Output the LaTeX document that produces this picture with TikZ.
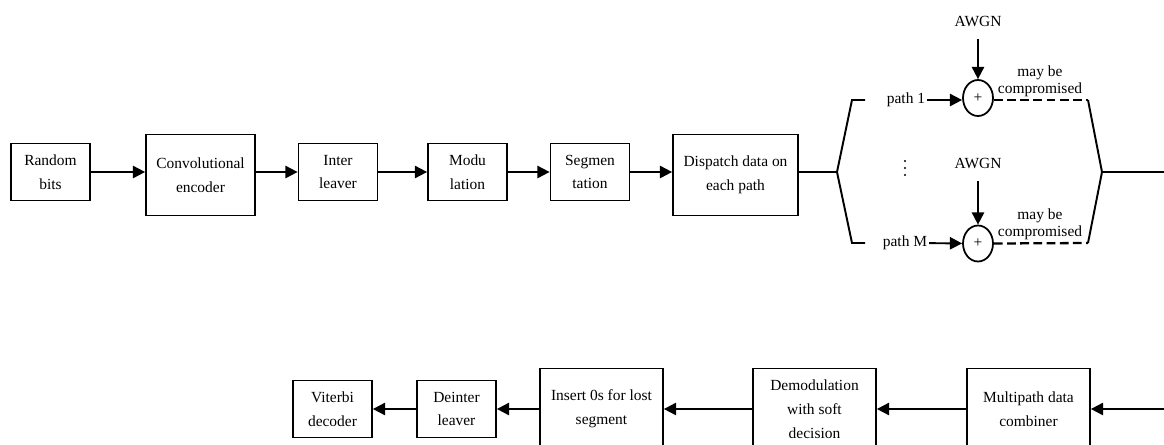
\documentclass[tikz,border=0pt]{standalone}
\usepackage{fontspec}
\setmainfont{Liberation Serif}
\usepackage{tikz}
\usetikzlibrary{arrows.meta}
\usetikzlibrary{shapes.geometric}
\tikzstyle{BlockNode}=[rectangle,draw,line width=1pt,align=center,inner sep=1pt,
font=\fontsize{8.8}{13.5}\selectfont]
\tikzstyle{SmallBlock}=[BlockNode,minimum width=1.58cm,minimum height=1.14cm]
\tikzstyle{BigBlock}=[BlockNode,minimum width=2.46cm,minimum height=1.62cm]
\tikzstyle{AdderNode}=[ellipse,draw,line width=1pt,minimum width=0.6cm,minimum height=0.72cm,
inner sep=0pt,font=\fontsize{8.8}{10}\selectfont]
\tikzstyle{LabelNode}=[inner sep=1pt,font=\fontsize{8.8}{10}\selectfont]
\tikzstyle{EdgeArrow}=[line width=1.1pt,-{Triangle[length=7pt,width=7pt]}]
\tikzstyle{EdgeLine}=[line width=1.1pt]
\tikzstyle{EdgeDashed}=[line width=1.3pt,dash pattern=on 5pt off 2.5pt]

\begin{document}
\begin{tikzpicture}[x=0.02cm,y=-0.02cm]
        \clip(0,0)rectangle(1164,444);
        % transmitter chain
        \node[SmallBlock](rb)at(50.5,172){Random\\bits};
        \node[BigBlock,minimum width=2.18cm](conv)at(200.5,175){Convolutional\\encoder};
        \node[SmallBlock](intl)at(338,172){Inter\\leaver};
        \node[SmallBlock](modu)at(467.5,172){Modu\\lation};
        \node[SmallBlock](segm)at(590,172){Segmen\\tation};
        \node[BigBlock,minimum width=2.5cm](disp)at(735.5,175){Dispatch data on\\each path};
        \draw[EdgeArrow](rb.east)--(rb.east-|conv.west);
        \draw[EdgeArrow](conv.east|-intl.west)--(intl.west);
        \draw[EdgeArrow](intl.east)--(modu.west);
        \draw[EdgeArrow](modu.east)--(segm.west);
        \draw[EdgeArrow](segm.east)--(segm.east-|disp.west);
        % channel paths
        \coordinate(splitL)at(837,172);
        \coordinate(brTop)at(865,100);
        \coordinate(brBot)at(865,243);
        \coordinate(cornA)at(1088,100);
        \coordinate(cornB)at(1088,243);
        \coordinate(joinR)at(1102,172);
        \coordinate(outR)at(1164,172);
        \draw[EdgeLine](disp.east|-splitL)--(splitL);
        \draw[EdgeLine](brTop)--(852,100)--(splitL)--(852,243)--(brBot);
        \node[LabelNode](pathA)at(906,100){path 1};
        \node[LabelNode](pathB)at(905,243){path M};
        \node[AdderNode](addA)at(978,98){+};
        \node[AdderNode](addB)at(978,243.5){+};
        \node[LabelNode](awgnA)at(978,21){AWGN};
        \node[LabelNode](awgnB)at(978,163){AWGN};
        \node[LabelNode,align=center,font=\fontsize{8.8}{9.5}\selectfont,anchor=south](compA)at(1040,99){may be\\compromised};
        \node[LabelNode,align=center,font=\fontsize{8.8}{9.5}\selectfont,anchor=south](compB)at(1040,242){may be\\compromised};
        \foreach \dy in {161,168,175}
            \fill(905,\dy)circle(0.6pt);
        \draw[EdgeArrow](pathA)--(addA.west|-pathA);
        \draw[EdgeArrow](pathB)--(addB);
        \draw[EdgeArrow,shorten <=6pt](awgnA)--(addA);
        \draw[EdgeArrow,shorten <=6pt](awgnB)--(addB);
        \draw[EdgeDashed](addA.east|-cornA)--(cornA);
        \draw[EdgeDashed](addB.east)--(cornB);
        \draw[EdgeLine](cornA)--(joinR)--(cornB);
        \draw[EdgeLine](joinR)--(outR);
        % receiver chain
        \coordinate(inR)at(1164,409);
        \node[BigBlock](comb)at(1028.5,409){Multipath data\\combiner};
        \node[BigBlock](demod)at(814.5,409){Demodulation\\with soft\\decision};
        \node[BigBlock](ins)at(601.5,409){Insert 0s for lost\\segment};
        \node[SmallBlock](deint)at(456.5,409){Deinter\\leaver};
        \node[SmallBlock](vit)at(332.5,409){Viterbi\\decoder};
        \draw[EdgeArrow](inR)--(comb);
        \draw[EdgeArrow](comb)--(demod);
        \draw[EdgeArrow](demod)--(ins);
        \draw[EdgeArrow](ins)--(deint);
        \draw[EdgeArrow](deint)--(vit);
    \end{tikzpicture}
\end{document}
